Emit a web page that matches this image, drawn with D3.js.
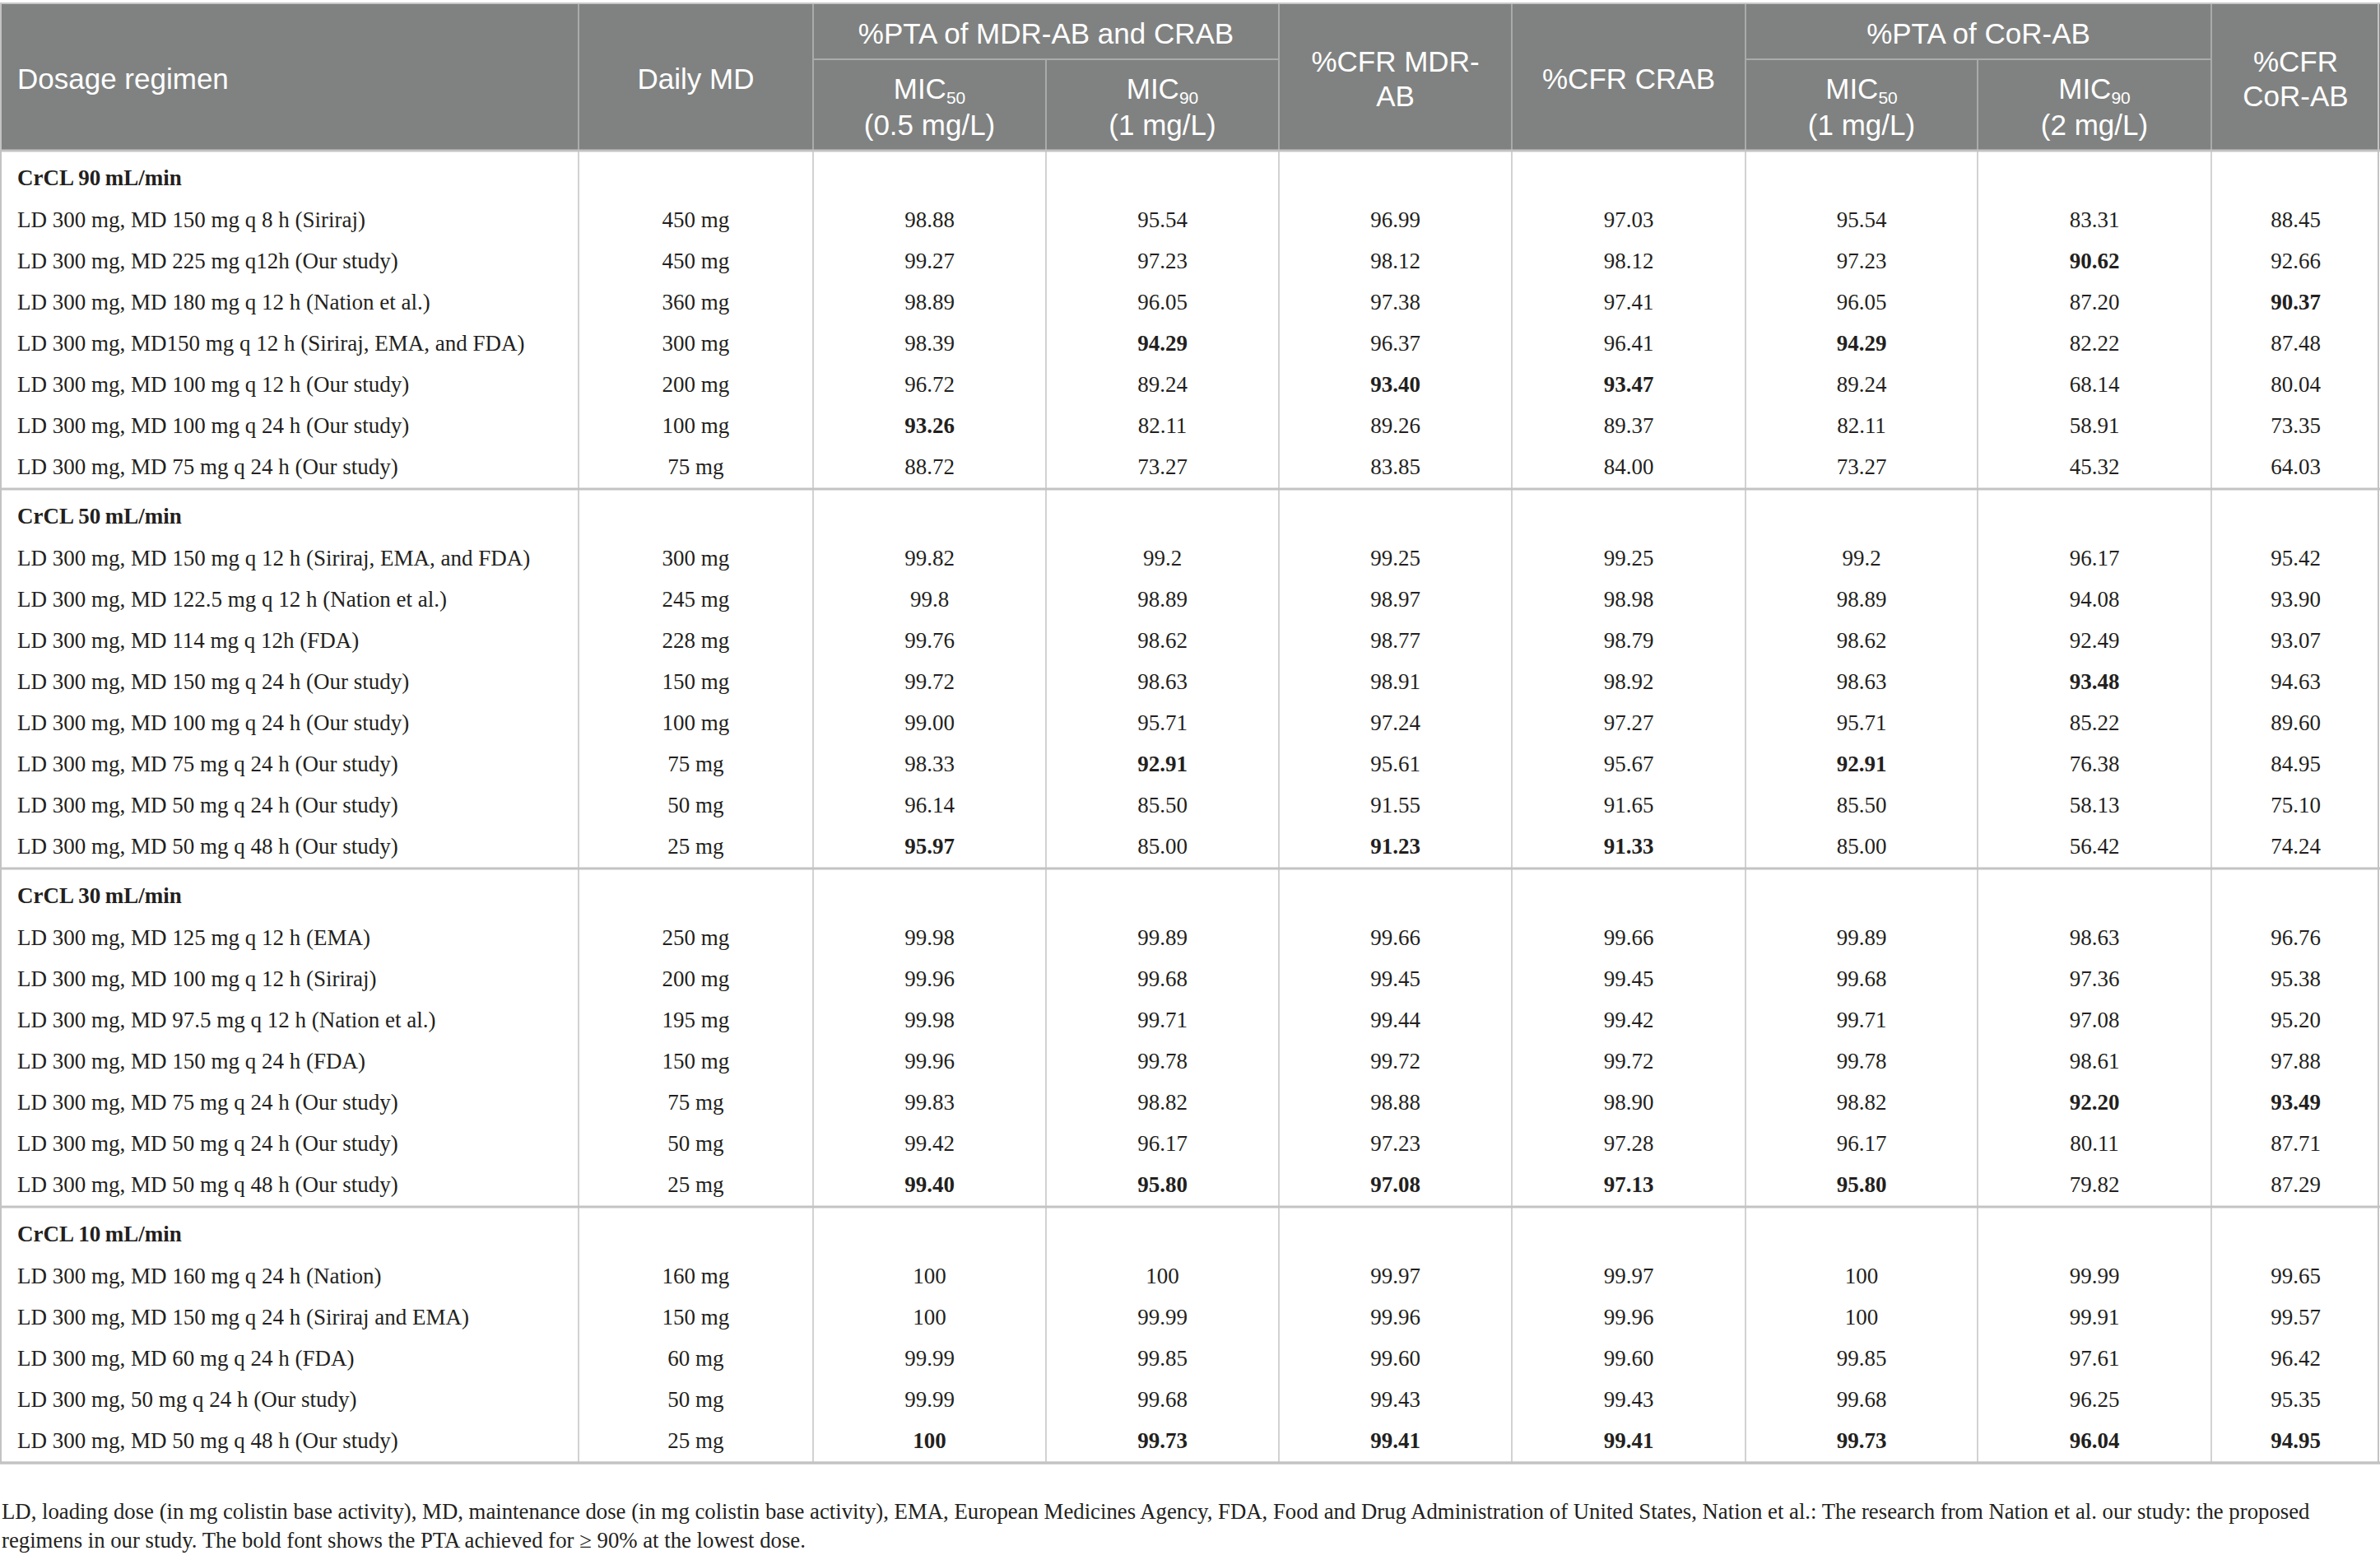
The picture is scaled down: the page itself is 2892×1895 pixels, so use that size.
<!DOCTYPE html>
<html>
<head>
<meta charset="utf-8">
<script src="https://cdn.jsdelivr.net/npm/d3@7"></script>
<style>
  html, body { margin: 0; padding: 0; background: #ffffff; }
  svg { display: block; }
</style>
</head>
<body>
<svg id="chart"></svg>
<script>
// ---------------- DATA ----------------
const sectionLabels = ["CrCL 90\u2009mL/min", "CrCL 50\u2009mL/min", "CrCL 30\u2009mL/min", "CrCL 10\u2009mL/min"];

const regimens90 = [
  "LD 300 mg, MD 150 mg q 8 h (Siriraj)",
  "LD 300 mg, MD 225 mg q12h (Our study)",
  "LD 300 mg, MD 180 mg q 12 h (Nation et al.)",
  "LD 300 mg, MD150 mg q 12 h (Siriraj, EMA, and FDA)",
  "LD 300 mg, MD 100 mg q 12 h (Our study)",
  "LD 300 mg, MD 100 mg q 24 h (Our study)",
  "LD 300 mg, MD 75 mg q 24 h (Our study)"
];
const dailyMD90 = ["450 mg", "450 mg", "360 mg", "300 mg", "200 mg", "100 mg", "75 mg"];
const values90 = [
  ["98.88", "95.54", "96.99", "97.03", "95.54", "83.31", "88.45"],
  ["99.27", "97.23", "98.12", "98.12", "97.23", "90.62", "92.66"],
  ["98.89", "96.05", "97.38", "97.41", "96.05", "87.20", "90.37"],
  ["98.39", "94.29", "96.37", "96.41", "94.29", "82.22", "87.48"],
  ["96.72", "89.24", "93.40", "93.47", "89.24", "68.14", "80.04"],
  ["93.26", "82.11", "89.26", "89.37", "82.11", "58.91", "73.35"],
  ["88.72", "73.27", "83.85", "84.00", "73.27", "45.32", "64.03"]
];
const bold90 = [[1, 5], [2, 6], [3, 1], [3, 4], [4, 2], [4, 3], [5, 0]];

const regimens50 = [
  "LD 300 mg, MD 150 mg q 12 h (Siriraj, EMA, and FDA)",
  "LD 300 mg, MD 122.5 mg q 12 h (Nation et al.)",
  "LD 300 mg, MD 114 mg q 12h (FDA)",
  "LD 300 mg, MD 150 mg q 24 h (Our study)",
  "LD 300 mg, MD 100 mg q 24 h (Our study)",
  "LD 300 mg, MD 75 mg q 24 h (Our study)",
  "LD 300 mg, MD 50 mg q 24 h (Our study)",
  "LD 300 mg, MD 50 mg q 48 h (Our study)"
];
const dailyMD50 = ["300 mg", "245 mg", "228 mg", "150 mg", "100 mg", "75 mg", "50 mg", "25 mg"];
const values50 = [
  ["99.82", "99.2", "99.25", "99.25", "99.2", "96.17", "95.42"],
  ["99.8", "98.89", "98.97", "98.98", "98.89", "94.08", "93.90"],
  ["99.76", "98.62", "98.77", "98.79", "98.62", "92.49", "93.07"],
  ["99.72", "98.63", "98.91", "98.92", "98.63", "93.48", "94.63"],
  ["99.00", "95.71", "97.24", "97.27", "95.71", "85.22", "89.60"],
  ["98.33", "92.91", "95.61", "95.67", "92.91", "76.38", "84.95"],
  ["96.14", "85.50", "91.55", "91.65", "85.50", "58.13", "75.10"],
  ["95.97", "85.00", "91.23", "91.33", "85.00", "56.42", "74.24"]
];
const bold50 = [[3, 5], [5, 1], [5, 4], [7, 0], [7, 2], [7, 3]];

const regimens30 = [
  "LD 300 mg, MD 125 mg q 12 h (EMA)",
  "LD 300 mg, MD 100 mg q 12 h (Siriraj)",
  "LD 300 mg, MD 97.5 mg q 12 h (Nation et al.)",
  "LD 300 mg, MD 150 mg q 24 h (FDA)",
  "LD 300 mg, MD 75 mg q 24 h (Our study)",
  "LD 300 mg, MD 50 mg q 24 h (Our study)",
  "LD 300 mg, MD 50 mg q 48 h (Our study)"
];
const dailyMD30 = ["250 mg", "200 mg", "195 mg", "150 mg", "75 mg", "50 mg", "25 mg"];
const values30 = [
  ["99.98", "99.89", "99.66", "99.66", "99.89", "98.63", "96.76"],
  ["99.96", "99.68", "99.45", "99.45", "99.68", "97.36", "95.38"],
  ["99.98", "99.71", "99.44", "99.42", "99.71", "97.08", "95.20"],
  ["99.96", "99.78", "99.72", "99.72", "99.78", "98.61", "97.88"],
  ["99.83", "98.82", "98.88", "98.90", "98.82", "92.20", "93.49"],
  ["99.42", "96.17", "97.23", "97.28", "96.17", "80.11", "87.71"],
  ["99.40", "95.80", "97.08", "97.13", "95.80", "79.82", "87.29"]
];
const bold30 = [[4, 5], [4, 6], [6, 0], [6, 1], [6, 2], [6, 3], [6, 4]];

const regimens10 = [
  "LD 300 mg, MD 160 mg q 24 h (Nation)",
  "LD 300 mg, MD 150 mg q 24 h (Siriraj and EMA)",
  "LD 300 mg, MD 60 mg q 24 h (FDA)",
  "LD 300 mg, 50 mg q 24 h (Our study)",
  "LD 300 mg, MD 50 mg q 48 h (Our study)"
];
const dailyMD10 = ["160 mg", "150 mg", "60 mg", "50 mg", "25 mg"];
const values10 = [
  ["100", "100", "99.97", "99.97", "100", "99.99", "99.65"],
  ["100", "99.99", "99.96", "99.96", "100", "99.91", "99.57"],
  ["99.99", "99.85", "99.60", "99.60", "99.85", "97.61", "96.42"],
  ["99.99", "99.68", "99.43", "99.43", "99.68", "96.25", "95.35"],
  ["100", "99.73", "99.41", "99.41", "99.73", "96.04", "94.95"]
];
const bold10 = [[4, 0], [4, 1], [4, 2], [4, 3], [4, 4], [4, 5], [4, 6]];

// header texts
const groupHeaders = ["%PTA of MDR-AB and CRAB", "%PTA of CoR-AB"];
const columnHeaders = [
  ["Dosage regimen"],
  ["Daily MD"],
  ["MIC|50", "(0.5 mg/L)"],
  ["MIC|90", "(1 mg/L)"],
  ["%CFR MDR-", "AB"],
  ["%CFR CRAB"],
  ["MIC|50", "(1 mg/L)"],
  ["MIC|90", "(2 mg/L)"],
  ["%CFR", "CoR-AB"]
];
const footnoteLines = [
  "LD, loading dose (in mg colistin base activity), MD, maintenance dose (in mg colistin base activity), EMA, European Medicines Agency, FDA, Food and Drug Administration of United States, Nation et al.: The research from Nation et al. our study: the proposed",
  "regimens in our study. The bold font shows the PTA achieved for \u2265 90% at the lowest dose."
];

// ---------------- LAYOUT ----------------
const W = 2892, H = 1895;
const colWidths = [703, 285, 283, 283, 283, 284, 282, 284, 205];
const headerTop = 5, headerMid = 72, headerBottom = 183;
const rowPitch = 50, firstRowOffset = 83.5, subOffset = 33, endPad = 27.5;

const sections = [
  { label: sectionLabels[0], regimens: regimens90, daily: dailyMD90, values: values90, bold: bold90 },
  { label: sectionLabels[1], regimens: regimens50, daily: dailyMD50, values: values50, bold: bold50 },
  { label: sectionLabels[2], regimens: regimens30, daily: dailyMD30, values: values30, bold: bold30 },
  { label: sectionLabels[3], regimens: regimens10, daily: dailyMD10, values: values10, bold: bold10 }
];

// column scale
const colEdges = [0];
colWidths.forEach(w => colEdges.push(colEdges[colEdges.length - 1] + w));
const xEdge = d3.scaleLinear().domain(d3.range(colEdges.length)).range(colEdges);
const xCenter = i => (xEdge(i) + xEdge(i + 1)) / 2;

// section positions
let cursor = headerBottom;
sections.forEach(s => {
  s.top = cursor;
  s.y = d3.scalePoint()
    .domain(d3.range(s.regimens.length))
    .range([s.top + firstRowOffset, s.top + firstRowOffset + (s.regimens.length - 1) * rowPitch]);
  s.subY = s.top + subOffset;
  s.bottom = s.top + firstRowOffset + (s.regimens.length - 1) * rowPitch + endPad;
  cursor = s.bottom;
});
const tableBottom = cursor;

const svg = d3.select("#chart").attr("width", W).attr("height", H)
  .attr("viewBox", `0 0 ${W} ${H}`);

const serif = "'Liberation Serif', 'Times New Roman', serif";
const sans = "'Liberation Sans', Arial, sans-serif";
const headerFill = "#808281";
const gridColor = "#c3c3c3";
const textColor = "#231f20";
const bodySize = 27;

// ---------------- HEADER ----------------
svg.append("rect").attr("x", 0).attr("y", headerTop).attr("width", W).attr("height", headerBottom - headerTop)
  .attr("fill", headerFill);
svg.append("line").attr("x1", 0).attr("x2", W).attr("y1", headerTop - 1).attr("y2", headerTop - 1)
  .attr("stroke", "#c8c8c8").attr("stroke-width", 2);

const hdrLines = svg.append("g").attr("stroke", "#a9abaa").attr("stroke-width", 2);
[[2, 4], [6, 8]].forEach(([a, b]) => {
  hdrLines.append("line").attr("x1", xEdge(a)).attr("x2", xEdge(b)).attr("y1", headerMid).attr("y2", headerMid);
});
d3.range(1, 9).forEach(i => {
  const partial = (i === 3 || i === 7);
  hdrLines.append("line").attr("x1", xEdge(i)).attr("x2", xEdge(i))
    .attr("y1", partial ? headerMid : headerTop).attr("y2", headerBottom);
});

const hdrSize = 35;
const hdrText = svg.append("g").attr("font-family", sans).attr("font-size", hdrSize).attr("fill", "#ffffff");
groupHeaders.forEach((t, k) => {
  const a = k === 0 ? 2 : 6;
  hdrText.append("text").attr("x", (xEdge(a) + xEdge(a + 2)) / 2).attr("y", 53)
    .attr("text-anchor", "middle").text(t);
});

// each header cell is one <text>; its lines are tspans
columnHeaders.forEach((lines, i) => {
  const anchor = i === 0 ? "start" : "middle";
  const x = i === 0 ? 21 : xCenter(i);
  let baselines;
  if (lines[0].includes("|")) baselines = [120, 164];
  else if (lines.length === 2) baselines = [87, 129];
  else baselines = [108];
  const t = hdrText.append("text").attr("x", x).attr("y", baselines[0]).attr("text-anchor", anchor);
  lines.forEach((ln, j) => {
    if (ln.includes("|")) {
      const [main, sub] = ln.split("|");
      t.append("tspan").attr("x", x).attr("y", baselines[j]).text(main);
      t.append("tspan").attr("font-size", 21).attr("dy", 6).text(sub);
    } else {
      t.append("tspan").attr("x", x).attr("y", baselines[j]).text(ln);
    }
  });
});

// ---------------- BODY ----------------
const body = svg.append("g").attr("font-family", serif).attr("font-size", bodySize).attr("fill", textColor);

sections.forEach(s => {
  body.append("text").attr("x", 21).attr("y", s.subY).attr("dy", "0.34em")
    .attr("font-weight", "bold").text(s.label);

  const rows = body.selectAll(null).data(s.regimens.map((r, i) => ({ r, i }))).enter().append("g");
  rows.append("text").attr("x", 21).attr("y", d => s.y(d.i)).attr("dy", "0.34em").text(d => d.r);
  rows.append("text").attr("x", xCenter(1)).attr("y", d => s.y(d.i)).attr("dy", "0.34em")
    .attr("text-anchor", "middle").text(d => s.daily[d.i]);

  const boldSet = new Set(s.bold.map(([r, c]) => r + "_" + c));
  const cells = [];
  s.values.forEach((row, r) => row.forEach((v, c) => cells.push({ r, c, v })));
  body.selectAll(null).data(cells).enter().append("text")
    .attr("x", d => xCenter(d.c + 2))
    .attr("y", d => s.y(d.r)).attr("dy", "0.34em")
    .attr("text-anchor", "middle")
    .attr("font-weight", d => boldSet.has(d.r + "_" + d.c) ? "bold" : "normal")
    .text(d => d.v);
});

// grid lines
const grid = svg.append("g").attr("stroke", gridColor);
d3.range(1, 9).forEach(i => {
  grid.append("line").attr("x1", xEdge(i)).attr("x2", xEdge(i))
    .attr("y1", headerBottom).attr("y2", tableBottom).attr("stroke-width", 1.5);
});
grid.append("line").attr("x1", 1).attr("x2", 1).attr("y1", headerTop).attr("y2", tableBottom).attr("stroke-width", 2);
grid.append("line").attr("x1", W - 2).attr("x2", W - 2).attr("y1", headerTop).attr("y2", tableBottom).attr("stroke-width", 2);
sections.forEach(s => {
  grid.append("line").attr("x1", 0).attr("x2", W).attr("y1", s.top).attr("y2", s.top)
    .attr("stroke-width", 3);
});
grid.append("line").attr("x1", 0).attr("x2", W).attr("y1", tableBottom).attr("y2", tableBottom)
  .attr("stroke-width", 3.5);

// ---------------- FOOTNOTE ----------------
const foot = svg.append("g").attr("font-family", serif).attr("font-size", 26).attr("fill", textColor);
const footTexts = footnoteLines.map((t, i) =>
  foot.append("text").attr("x", 2).attr("y", 1836 + i * 35).attr("dy", "0.34em").text(t));
// fit the first footnote line to the width it spans in the reference
const targetFootWidth = 2806;
const measured = footTexts[0].node().getComputedTextLength();
if (measured > 0) {
  const fs = Math.max(24, Math.min(29, 26 * targetFootWidth / measured));
  foot.attr("font-size", fs);
}
</script>
</body>
</html>
